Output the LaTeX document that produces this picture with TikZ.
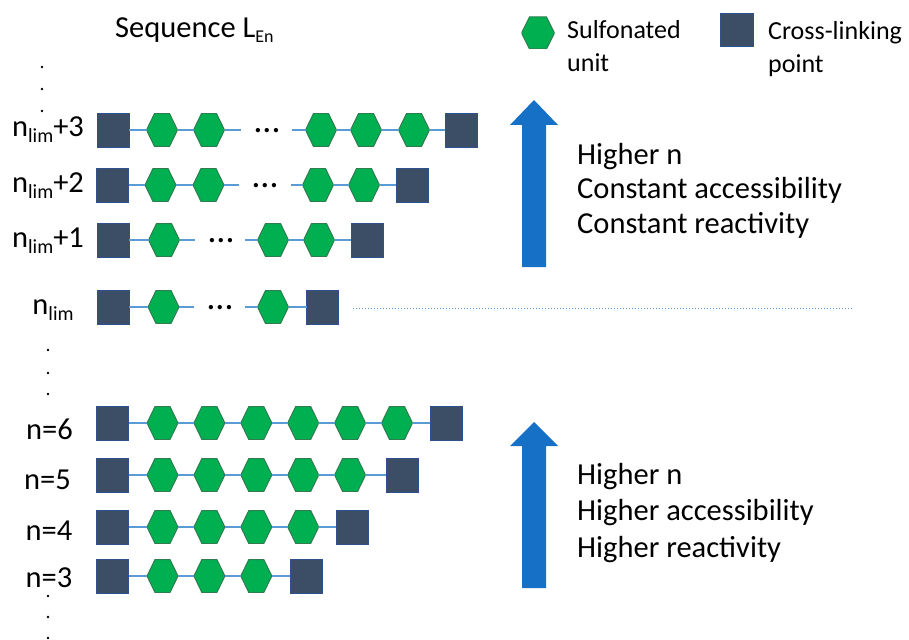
\documentclass[tikz,border=0pt]{standalone}
\usepackage{fontspec}
\setmainfont{Carlito}
\definecolor{hexgreen}{RGB}{0,176,80}
\definecolor{hexedge}{RGB}{46,125,80}
\definecolor{sqfill}{RGB}{59,78,102}
\definecolor{sqedge}{RGB}{47,82,143}
\definecolor{linkblue}{RGB}{91,155,213}
\definecolor{arrowblue}{RGB}{22,112,198}
\newcommand\lblsub[1]{\raisebox{-6pt}{\fontsize{20}{20}\selectfont #1}}
\newcommand\ttlsub[1]{\raisebox{-5pt}{\fontsize{18}{18}\selectfont #1}}
\tikzset{
  hexu/.style={minimum width=31pt, minimum height=33pt, inner sep=0pt, outer sep=0pt,
    path picture={\filldraw[fill=hexgreen, draw=hexedge, line width=1pt]
      (path picture bounding box.west) -- ([xshift=8pt]path picture bounding box.north west)
      -- ([xshift=-8pt]path picture bounding box.north east) -- (path picture bounding box.east)
      -- ([xshift=-8pt]path picture bounding box.south east) -- ([xshift=8pt]path picture bounding box.south west)
      -- cycle;}},
  xlink/.style={draw=sqedge, fill=sqfill, line width=0.8pt, minimum width=32pt, minimum height=34pt, inner sep=0pt, outer sep=0pt},
  bond/.style={draw=linkblue, line width=1.2pt},
  ellip/.style={inner sep=0pt, font=\fontsize{36}{36}\selectfont},
  lbl/.style={anchor=base, inner sep=0pt, font=\fontsize{30.5}{36}\selectfont},
  bigtxt/.style={anchor=base west, align=left, inner sep=0pt},
  vdot/.style={fill=black},
  uparrow/.style={fill=arrowblue}
}
\begin{document}
\begin{tikzpicture}[x=1pt,y=-1pt]
\useasboundingbox (0,0) rectangle (909,639);

% title and legend
\node[bigtxt, font=\fontsize{30.5}{36}\selectfont] (title) at (115,38) {Sequence L\ttlsub{En}};
\node[hexu, minimum width=33pt, minimum height=32pt] (leghex) at (538,33) {};
\node[bigtxt, font=\fontsize{26}{33}\selectfont] (legS) at (567,72) {Sulfonated\\unit};
\node[xlink, minimum width=33pt, minimum height=33pt] (legsq) at (736.5,29.5) {};
\node[bigtxt, font=\fontsize{26}{33}\selectfont] (legX) at (768,73) {Cross-linking\\point};

% vertical dots
\foreach \p in {(42,67),(42,89),(42,111),(48,350),(48,373),(48,394),(48,596),(48,617),(48,638)}
  \fill[vdot] \p circle (1.4pt);

% row n_lim+3
\node[lbl] (lA) at (48,137) {n\lblsub{lim}+3};
\node[xlink] (A-s0) at (113,130) {};
\node[hexu] (A-h1) at (162,130) {};
\node[hexu] (A-h2) at (209,130) {};
\coordinate (A-c1) at (241,130);
\node[ellip] (A-dots) at (267,131) {…};
\coordinate (A-c2) at (292,130);
\node[hexu] (A-h3) at (321,130) {};
\node[hexu] (A-h4) at (366,130) {};
\node[hexu] (A-h5) at (414,130) {};
\node[xlink] (A-s1) at (461,130) {};
\draw[bond] (A-s0) -- (A-h1); \draw[bond] (A-h1) -- (A-h2); \draw[bond] (A-h2) -- (A-c1);
\draw[bond] (A-c2) -- (A-h3); \draw[bond] (A-h3) -- (A-h4); \draw[bond] (A-h4) -- (A-h5); \draw[bond] (A-h5) -- (A-s1);

% row n_lim+2
\node[lbl] (lB) at (48,192) {n\lblsub{lim}+2};
\node[xlink] (B-s0) at (112.5,185) {};
\node[hexu] (B-h1) at (160.5,185) {};
\node[hexu] (B-h2) at (208.5,185) {};
\coordinate (B-c1) at (239,185);
\node[ellip] (B-dots) at (265,186) {…};
\coordinate (B-c2) at (291,185);
\node[hexu] (B-h3) at (318,185) {};
\node[hexu] (B-h4) at (364,185) {};
\node[xlink] (B-s1) at (412,185) {};
\draw[bond] (B-s0) -- (B-h1); \draw[bond] (B-h1) -- (B-h2); \draw[bond] (B-h2) -- (B-c1);
\draw[bond] (B-c2) -- (B-h3); \draw[bond] (B-h3) -- (B-h4); \draw[bond] (B-h4) -- (B-s1);

% row n_lim+1
\node[lbl] (lC) at (48,247) {n\lblsub{lim}+1};
\node[xlink] (C-s0) at (113,240) {};
\node[hexu] (C-h1) at (164,240) {};
\coordinate (C-c1) at (195,240);
\node[ellip] (C-dots) at (221,241) {…};
\coordinate (C-c2) at (245,240);
\node[hexu] (C-h2) at (273,240) {};
\node[hexu] (C-h3) at (319,240) {};
\node[xlink] (C-s1) at (367,240) {};
\draw[bond] (C-s0) -- (C-h1); \draw[bond] (C-h1) -- (C-c1);
\draw[bond] (C-c2) -- (C-h2); \draw[bond] (C-h2) -- (C-h3); \draw[bond] (C-h3) -- (C-s1);

% row n_lim
\node[lbl] (lD) at (53,314) {n\lblsub{lim}};
\node[xlink] (D-s0) at (113,307) {};
\node[hexu] (D-h1) at (163.5,307) {};
\coordinate (D-c1) at (194,307);
\node[ellip] (D-dots) at (220,308) {…};
\coordinate (D-c2) at (245,307);
\node[hexu] (D-h2) at (273,307) {};
\node[xlink] (D-s1) at (322.5,307) {};
\coordinate (D-c3) at (353,308);
\coordinate (D-c4) at (853,308);
\draw[bond] (D-s0) -- (D-h1); \draw[bond] (D-h1) -- (D-c1);
\draw[bond] (D-c2) -- (D-h2); \draw[bond] (D-h2) -- (D-s1);
\draw[draw=linkblue, line width=1pt, dash pattern=on 1.2pt off 1.8pt] (D-c3) -- (D-c4);

% rows n = 6 .. 3
\foreach \r/\y/\ly/\lx/\ex in {6/423/439/49.5/49, 5/475/489/47.5/52, 4/527/540/49/49, 3/576/587/49/50} {
  \node[lbl] (l\r) at (\lx,\ly) {n=\r};
  \node[xlink] (r\r-s0) at (112.5,\y) {};
  \foreach \i in {1,...,\r} {
    \node[hexu] (r\r-h\i) at ({162.5+46.9*(\i-1)},\y) {};
  }
  \node[xlink] (r\r-s1) at ({162.5+46.9*(\r-1)+\ex},\y) {};
  \draw[bond] (r\r-s0) -- (r\r-h1);
  \foreach \i [remember=\i as \p (initially 1)] in {2,...,\r} {
    \draw[bond] (r\r-h\p) -- (r\r-h\i);
  }
  \draw[bond] (r\r-h\r) -- (r\r-s1);
}

% arrows
\fill[uparrow] (522,267) -- (522,125) -- (510,125) -- (534,100) -- (558,125) -- (546,125) -- (546,267) -- cycle;
\fill[uparrow] (522,588) -- (522,446) -- (510,446) -- (534,422) -- (558,446) -- (546,446) -- (546,588) -- cycle;

% side texts
\node[bigtxt, font=\fontsize{30.5}{34.5}\selectfont] (txtU) at (577,233) {Higher n\\Constant accessibility\\Constant reactivity};
\node[bigtxt, font=\fontsize{30.5}{36.5}\selectfont] (txtL) at (577,557) {Higher n\\Higher accessibility\\Higher reactivity};
\end{tikzpicture}
\end{document}
